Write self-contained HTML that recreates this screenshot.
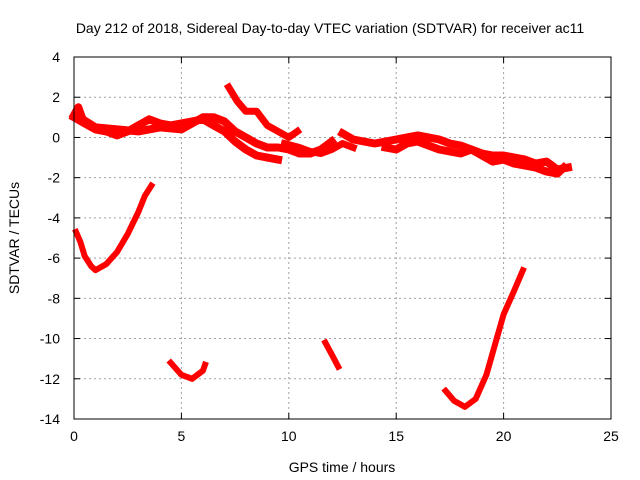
<!DOCTYPE html>
<html><head><meta charset="utf-8"><style>
body{margin:0;background:#fff;}
svg{display:block;font-family:"Liberation Sans",sans-serif;}
</style></head><body>
<svg id="chart" width="640" height="480">
<rect width="640" height="480" fill="#fff"/>
<text x="330" y="33" font-size="14" text-anchor="middle">Day 212 of 2018, Sidereal Day-to-day VTEC variation (SDTVAR) for receiver ac11</text>
<g id="grid"></g><g id="series"></g><g id="axes"></g>
<text x="342" y="472" font-size="14" text-anchor="middle">GPS time / hours</text>
<text transform="translate(19,238) rotate(-90)" font-size="14" text-anchor="middle">SDTVAR / TECUs</text>
</svg>
<script>
const xTicks=[0,5,10,15,20,25];
const yTicks=[4,2,0,-2,-4,-6,-8,-10,-12,-14];
const seriesA=[[0,1.0],[0.5,0.7],[1,0.4],[1.5,0.3],[2,0.1],[2.5,0.3],[3,0.6],[3.5,0.9],[4,0.7],[4.5,0.6],[5,0.7],[5.5,0.8],[6,0.9],[6.5,0.6],[7,0.3],[7.5,-0.2],[8,-0.6],[8.5,-0.9],[9,-1.0],[9.5,-1.1]];
const seriesB=[[0,1.1],[0.2,1.5],[0.4,0.9],[1,0.5],[2,0.4],[3,0.3],[4,0.5],[5,0.4],[6,1.0],[6.5,1.0],[7,0.8],[7.5,0.3],[8,0.0],[8.5,-0.3],[9,-0.5],[9.5,-0.5],[10,-0.6],[10.5,-0.8],[11,-0.8],[11.5,-0.6],[12,-0.2]];
const seriesC=[[7.2,2.5],[7.6,1.8],[8,1.3],[8.5,1.3],[9,0.6],[9.5,0.3],[10,0.0],[10.4,0.3]];
const seriesD=[[12.5,0.2],[13,-0.1],[13.5,-0.2],[14,-0.3],[14.5,-0.2],[15,-0.1],[15.5,0.0],[16,0.1],[16.5,0.0],[17,-0.1],[17.5,-0.3],[18,-0.4],[18.5,-0.6],[19,-0.8],[19.5,-0.9],[20,-0.9],[20.5,-1.0],[21,-1.1],[21.5,-1.3],[22,-1.2],[22.5,-1.6],[23,-1.5]];
const seriesE=[[14.5,-0.5],[15,-0.6],[15.5,-0.3],[16,-0.2],[16.5,-0.4],[17,-0.6],[17.5,-0.7],[18,-0.8],[18.5,-0.6],[19,-0.9],[19.5,-1.2],[20,-1.1],[20.5,-1.3],[21,-1.4],[21.5,-1.5],[22,-1.7],[22.5,-1.8],[22.8,-1.5]];
const seriesF=[[9.8,-0.3],[10.5,-0.5],[11,-0.7],[11.5,-0.8],[12,-0.6],[12.5,-0.3],[13,-0.5]];
const seriesG=[[0.1,-4.7],[0.3,-5.2],[0.5,-5.9],[0.8,-6.4],[1,-6.6],[1.5,-6.3],[2,-5.7],[2.5,-4.8],[3,-3.7],[3.3,-2.9],[3.6,-2.4]];
const seriesH=[[4.5,-11.2],[5,-11.8],[5.5,-12.0],[6,-11.6],[6.1,-11.3]];
const seriesI=[[11.7,-10.2],[12,-10.8],[12.3,-11.4]];
const seriesJ=[[17.3,-12.6],[17.7,-13.1],[18.2,-13.4],[18.7,-13.0],[19.2,-11.8],[19.6,-10.3],[20,-8.8],[20.5,-7.6],[20.9,-6.6]];
const allSeries=[seriesA,seriesB,seriesC,seriesD,seriesE,seriesF,seriesG,seriesH,seriesI,seriesJ];
const widths=[8,8,7,8,8,7,6,6,6,6];
const L=74,R=611,T=57,B=419;
const sx=v=>L+(v-0)/(25-0)*(R-L);
const sy=v=>T+(4-v)/(4-(-14))*(B-T);
const NS="http://www.w3.org/2000/svg";
function mk(p,tag,at){const e=document.createElementNS(NS,tag);for(const k in at)e.setAttribute(k,at[k]);p.appendChild(e);return e;}
const grid=document.getElementById('grid'),axes=document.getElementById('axes'),ser=document.getElementById('series');
xTicks.forEach(t=>{const x=sx(t);
 if(t>0&&t<25){const g=mk(grid,'line',{x1:x,x2:x,y1:T,y2:B,stroke:'#a0a0a0','stroke-dasharray':'2,3'});
 
 }
 const tk=mk(axes,'line',{x1:x,x2:x,y1:B,y2:B-6,stroke:'#000'});
 
 
 const tk2=mk(axes,'line',{x1:x,x2:x,y1:T,y2:T+6,stroke:'#000'});
 
 
 const tx=mk(axes,'text',{x:x,y:B+22,'font-size':14,'text-anchor':'middle'});tx.textContent=t;
 
 
});
yTicks.forEach(t=>{const y=sy(t);
 if(t<4&&t>-14){const g=mk(grid,'line',{x1:L,x2:R,y1:y,y2:y,stroke:'#a0a0a0','stroke-dasharray':'2,3'});
 
 }
 const tk=mk(axes,'line',{x1:L,x2:L+6,y1:y,y2:y,stroke:'#000'});
 
 
 const tk2=mk(axes,'line',{x1:R,x2:R-6,y1:y,y2:y,stroke:'#000'});
 
 
 const tx=mk(axes,'text',{x:L-14,y:y+5,'font-size':14,'text-anchor':'end'});tx.textContent=t;
 
 
});
const frame=mk(axes,'rect',{x:L,y:T,width:R-L,height:B-T,fill:'none',stroke:'#000'});


allSeries.forEach((s,i)=>{
 const d=s.map((p,j)=>(j?'L':'M')+sx(p[0]).toFixed(1)+','+sy(p[1]).toFixed(1)).join('');
 const path=mk(ser,'path',{d:d,fill:'none',stroke:'#ff0000','stroke-width':widths[i],'stroke-linejoin':'round','stroke-linecap':'square'});
 
 
});
</script>
</body></html>
